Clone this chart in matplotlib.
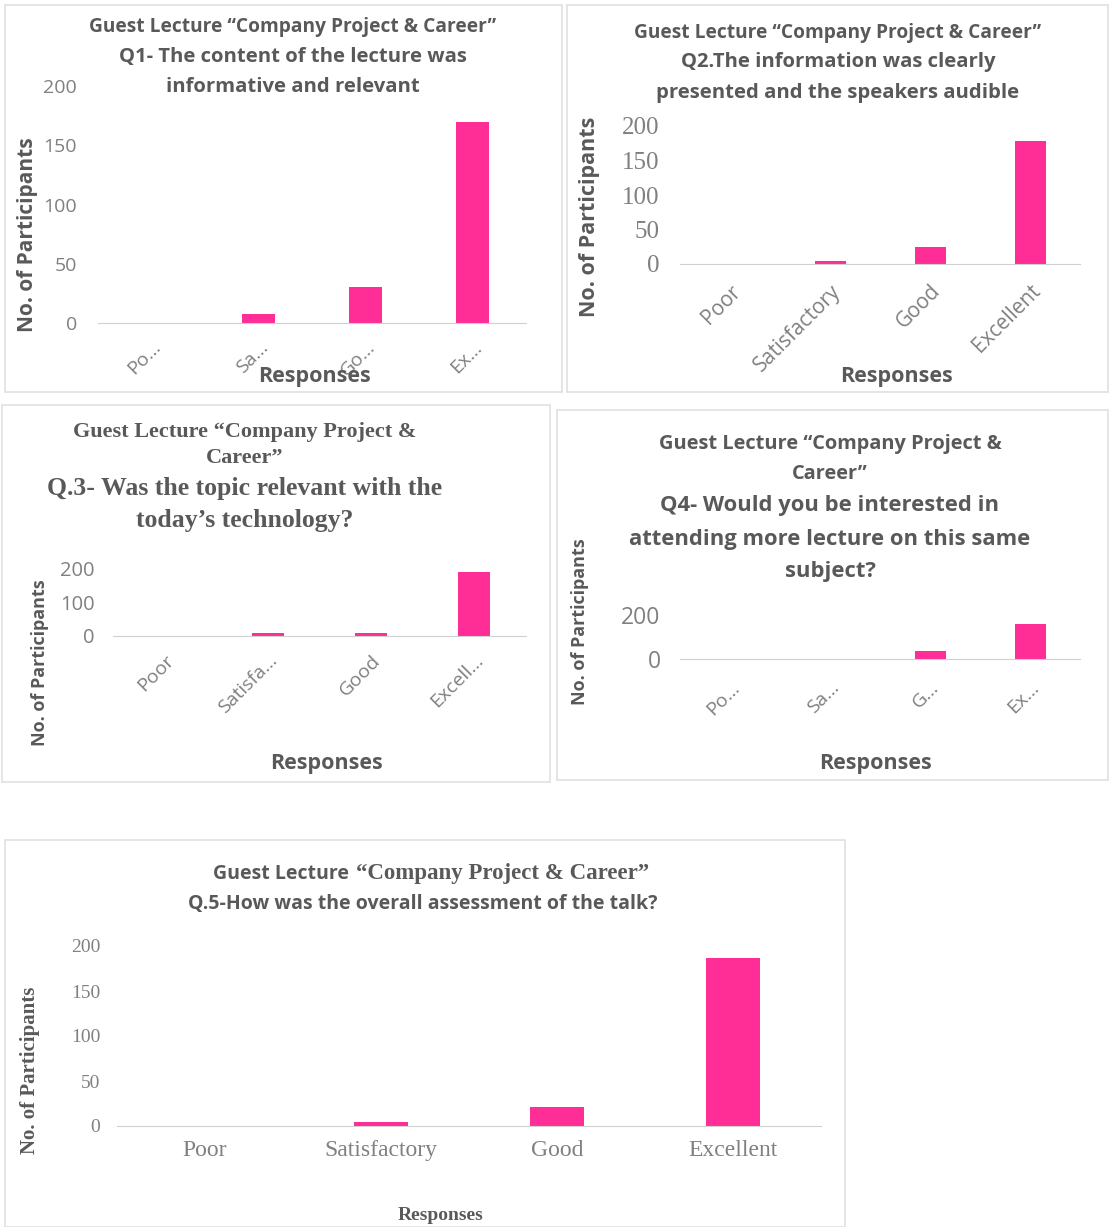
import matplotlib
matplotlib.use('Agg')
import matplotlib.pyplot as plt
from matplotlib.patches import Rectangle

# data
categories = ['Poor', 'Satisfactory', 'Good', 'Excellent']
q1_values = [0, 8, 30, 170]
q2_values = [0, 4, 25, 178]
q3_values = [0, 8, 8, 191]
q4_values = [0, 2, 35, 158]
q5_values = [0, 5, 21, 187]

q1_ticks = ['Po…', 'Sa…', 'Go…', 'Ex…']
q2_ticks = categories
q3_ticks = ['Poor', 'Satisfa…', 'Good', 'Excell…']
q4_ticks = ['Po…', 'Sa…', 'G…', 'Ex…']
q5_ticks = categories

W, H = 1110, 1227
pink = '#FF2D96'
gray = '#595959'
light = '#808080'
sans = 'Open Sans'
serif = 'Liberation Serif'

fig = plt.figure(figsize=(W / 100, H / 100), dpi=100)


def fx(x):
    return x / W


def fy(y):
    return 1 - y / H


def frame(l, t, r, b):
    fig.patches.append(Rectangle((fx(l), fy(b)), fx(r - l), (b - t) / H,
                                 transform=fig.transFigure, fill=False,
                                 edgecolor='#e0e0e0', linewidth=1.2))


def chart(l, t, r, b, values, ticks, yticks, rot, tickfont, yfont, tsize, ysize,
          xpad, ypad):
    ax = fig.add_axes([fx(l), fy(b), fx(r - l), (b - t) / H])
    x = range(len(values))
    ax.bar(x, values, width=0.31, color=pink)
    ax.set_xlim(-0.5, len(values) - 0.5)
    ax.set_ylim(0, 200)
    ax.set_yticks(yticks)
    for s in ['top', 'right', 'left']:
        ax.spines[s].set_visible(False)
    ax.spines['bottom'].set_color('#d0d0d0')
    ax.tick_params(axis='x', length=0, colors=light, pad=xpad)
    ax.tick_params(axis='y', length=0, colors=light, pad=ypad)
    ax.set_xticks(list(x))
    if rot:
        ax.set_xticklabels(ticks, rotation=45, ha='right', rotation_mode='anchor',
                           family=tickfont, fontsize=tsize, color=light)
    else:
        ax.set_xticklabels(ticks, family=tickfont, fontsize=tsize, color=light)
    for lab in ax.get_yticklabels():
        lab.set_family(yfont)
        lab.set_fontsize(ysize)
        lab.set_color(light)
    return ax


def ftext(x, y, s, size, family=sans, weight='bold', color=gray, rot=0, ha='center'):
    fig.text(fx(x), fy(y), s, fontsize=size, family=family, weight=weight,
             color=color, ha=ha, va='center', rotation=rot)


# panel frames
frame(5, 5, 562, 392)
frame(567, 5, 1108, 392)
frame(2, 405, 550, 782)
frame(557, 410, 1108, 780)
frame(5, 840, 845, 1227)

# Q1
chart(98, 86, 526, 323, q1_values, q1_ticks, [0, 50, 100, 150, 200], True,
      sans, sans, 14, 14, 11, 15)
ftext(293, 27, 'Guest Lecture “Company Project & Career”', 13.8)
ftext(293, 57, 'Q1- The content of the lecture was', 14.6)
ftext(293, 87, 'informative and relevant', 14.6)
ftext(315, 376, 'Responses', 15.5)
ftext(28, 235, 'No. of Participants', 15, rot=90)

# Q2
chart(680, 126, 1080, 264, q2_values, q2_ticks, [0, 50, 100, 150, 200], True,
      sans, serif, 15, 18, 12, 15)
ftext(838, 33, 'Guest Lecture “Company Project & Career”', 13.8)
ftext(838, 62, 'Q2.The information was clearly', 14.6)
ftext(838, 93, 'presented and the speakers audible', 14.6)
ftext(897, 376, 'Responses', 15.5)
ftext(590, 217, 'No. of Participants', 15.5, rot=90)

# Q3
chart(113, 569, 526, 636, q3_values, q3_ticks, [0, 100, 200], True,
      sans, sans, 14, 14.5, 11, 13)
ftext(245, 432, 'Guest Lecture “Company Project &', 16, family=serif)
ftext(245, 458, 'Career”', 16, family=serif)
ftext(245, 489, 'Q.3- Was the topic relevant with the', 18.5, family=serif)
ftext(245, 520, 'today’s technology?', 18.5, family=serif)
ftext(326, 763, 'Responses', 15.5)
ftext(40, 663, 'No. of Participants', 13, rot=90)

# Q4
chart(680, 615, 1080, 659, q4_values, q4_ticks, [0, 200], True,
      sans, sans, 14, 16.5, 14, 14)
ftext(830, 444, 'Guest Lecture “Company Project &', 14.4)
ftext(830, 474, 'Career”', 14.4)
ftext(830, 506, 'Q4- Would you be interested in', 15.8)
ftext(830, 539, 'attending more lecture on this same', 15.8)
ftext(830, 571, 'subject?', 15.8)
ftext(875, 763, 'Responses', 15.5)
ftext(580, 622, 'No. of Participants', 13, rot=90)

# Q5
chart(117, 946, 821, 1126, q5_values, q5_ticks, [0, 50, 100, 150, 200], False,
      serif, serif, 17, 14, 10, 12)
ftext(349, 874, 'Guest Lecture', 14, ha='right')
ftext(356, 874, '“Company Project & Career”', 16.5, family=serif, ha='left')
ftext(423, 904, 'Q.5-How was the overall assessment of the talk?', 14)
ftext(441, 1215, 'Responses', 14, family=serif)
ftext(30, 1070, 'No. of Participants', 15, family=serif, rot=90)

plt.savefig('out.png', dpi=100)
